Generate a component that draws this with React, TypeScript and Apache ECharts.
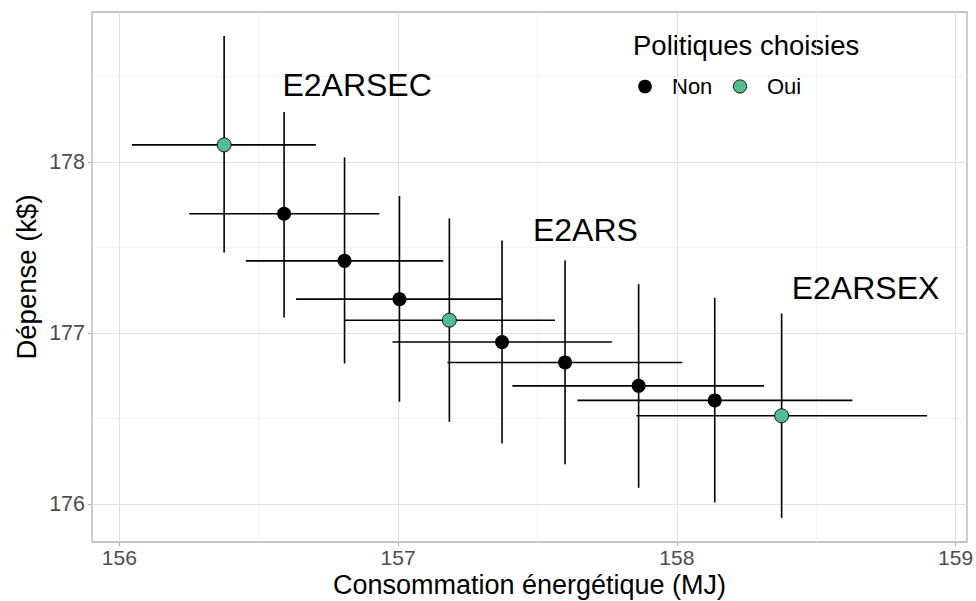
import React, { useEffect, useRef } from "react";
import * as echarts from "echarts";

// ---- data ----
const consumption = [156.376, 156.591, 156.808, 157.005, 157.184, 157.373, 157.599, 157.863, 158.136, 158.376];
const consumptionLow = [156.045, 156.251, 156.454, 156.634, 156.806, 156.98, 157.177, 157.41, 157.643, 157.855];
const consumptionHigh = [156.705, 156.933, 157.162, 157.373, 157.563, 157.767, 158.02, 158.313, 158.63, 158.898];
const spending = [178.099, 177.696, 177.421, 177.197, 177.074, 176.946, 176.827, 176.69, 176.605, 176.515];
const spendingLow = [177.47, 177.09, 176.821, 176.597, 176.48, 176.353, 176.232, 176.094, 176.008, 175.918];
const spendingHigh = [178.735, 178.292, 178.026, 177.8, 177.669, 177.54, 177.425, 177.285, 177.205, 177.113];
const chosen = ["Oui", "Non", "Non", "Non", "Oui", "Non", "Non", "Non", "Non", "Oui"];

const annotationTexts = ["E2ARSEC", "E2ARS", "E2ARSEX"];
const annotationX = [156.853, 157.672, 158.677];
const annotationY = [178.448, 177.6, 177.265];

const legendTitle = "Politiques choisies";
const legendLevels = ["Non", "Oui"];
const xTitle = "Consommation énergétique (MJ)";
const yTitle = "Dépense (k$)";

const xRange = [155.902, 159.041];
const yRange = [175.777, 178.876];

const FONT = "'Liberation Sans', Arial, Helvetica, sans-serif";
const GREEN = "#55bf8b";
const levelColors: Record<string, string> = { Non: "#000000", Oui: GREEN };

export default function App() {
  const ref = useRef<HTMLDivElement>(null);

  useEffect(() => {
    if (!ref.current) return;
    const chart = echarts.init(ref.current, undefined, { renderer: "svg" });

    const errData = consumption.map((x, i) => [
      x,
      spending[i],
      consumptionLow[i],
      consumptionHigh[i],
      spendingLow[i],
      spendingHigh[i],
    ]);

    const pointSeries = legendLevels.map((lvl) => ({
      name: lvl,
      type: "scatter",
      symbol: "circle",
      symbolSize: 14,
      z: 5,
      itemStyle: {
        color: levelColors[lvl],
        borderColor: "#000",
        borderWidth: lvl === "Oui" ? 0.9 : 0,
        opacity: 1,
      },
      emphasis: { disabled: true },
      data: consumption
        .map((x, i) => (chosen[i] === lvl ? [x, spending[i]] : null))
        .filter((d) => d !== null),
    }));

    const axisCommon = {
      type: "value",
      axisLine: { show: false },
      axisTick: { show: true, length: 4, lineStyle: { color: "#b3b3b3", width: 1 } },
      splitLine: { show: true, showMinLine: false, showMaxLine: false, lineStyle: { color: "#e0e0e0", width: 1 } },
      minorTick: { show: false, splitNumber: 2 },
      minorSplitLine: { show: true, lineStyle: { color: "#ededed", width: 0.6 } },
      minInterval: 1,
      maxInterval: 1,
      nameMoveOverlap: false,
    };

    const tickFormatter = (v: number) =>
      Math.abs(v - Math.round(v)) < 1e-6 ? String(Math.round(v)) : "";

    chart.setOption({
      animation: false,
      grid: {
        left: 92,
        right: 9,
        top: 12,
        bottom: 59,
        show: true,
        borderColor: "#b3b3b3",
        borderWidth: 1.3,
        backgroundColor: "transparent",
        containLabel: false,
        outerBoundsMode: "none",
      },
      xAxis: {
        ...axisCommon,
        min: xRange[0],
        max: xRange[1],
        axisLabel: {
          fontFamily: FONT,
          fontSize: 21,
          lineHeight: 18,
          color: "#4d4d4d",
          margin: 6,
          showMinLabel: false,
          showMaxLabel: false,
          formatter: tickFormatter,
        },
        name: xTitle,
        nameLocation: "middle",
        nameGap: 31,
        nameTextStyle: { fontFamily: FONT, fontSize: 27, lineHeight: 24, color: "#000" },
      },
      yAxis: {
        ...axisCommon,
        min: yRange[0],
        max: yRange[1],
        axisLabel: {
          fontFamily: FONT,
          fontSize: 21.5,
          color: "#4d4d4d",
          margin: 7,
          showMinLabel: false,
          showMaxLabel: false,
          formatter: tickFormatter,
        },
        name: yTitle,
        nameLocation: "middle",
        nameGap: 52,
        nameTextStyle: { fontFamily: FONT, fontSize: 27.5, color: "#000" },
      },
      series: [
        {
          type: "custom",
          name: "errorbars",
          z: 3,
          encode: { x: 0, y: 1 },
          data: errData,
          renderItem: (params: any, api: any) => {
            const x = api.value(0);
            const y = api.value(1);
            const pL = api.coord([api.value(2), y]);
            const pH = api.coord([api.value(3), y]);
            const pB = api.coord([x, api.value(4)]);
            const pT = api.coord([x, api.value(5)]);
            const style = { stroke: "#000", lineWidth: 1.6, fill: null };
            return {
              type: "group",
              children: [
                { type: "line", shape: { x1: pL[0], y1: pL[1], x2: pH[0], y2: pH[1] }, style },
                { type: "line", shape: { x1: pB[0], y1: pB[1], x2: pT[0], y2: pT[1] }, style },
              ],
            };
          },
        },
        ...pointSeries,
        {
          type: "scatter",
          name: "annotations",
          symbolSize: 0,
          z: 6,
          silent: true,
          itemStyle: { opacity: 1 },
          data: annotationTexts.map((t, i) => ({ name: t, value: [annotationX[i], annotationY[i]] })),
          label: {
            show: true,
            position: "inside",
            formatter: (p: any) => p.name,
            fontFamily: FONT,
            fontSize: 32,
            color: "#000",
            opacity: 1,
            textBorderWidth: 0,
          },
        },
      ],
      graphic: [
        {
          type: "text",
          left: 633,
          top: 31,
          style: { text: legendTitle, fontFamily: FONT, fontSize: 27.5, fill: "#000" },
        },
        { type: "circle", shape: { cx: 645, cy: 86.5, r: 6.8 }, style: { fill: levelColors.Non, stroke: "#000", lineWidth: 0 } },
        {
          type: "text",
          x: 672,
          y: 86.5,
          style: { text: legendLevels[0], fontFamily: FONT, fontSize: 22, fill: "#000", verticalAlign: "middle" },
        },
        { type: "circle", shape: { cx: 740, cy: 86.5, r: 6.6 }, style: { fill: levelColors.Oui, stroke: "#000", lineWidth: 0.9 } },
        {
          type: "text",
          x: 767,
          y: 86.5,
          style: { text: legendLevels[1], fontFamily: FONT, fontSize: 22, fill: "#000", verticalAlign: "middle" },
        },
      ],
    });

    return () => chart.dispose();
  }, []);

  return (
    <div
      ref={ref}
      style={{ position: "fixed", left: 0, top: 0, width: 976, height: 601, background: "#fff" }}
    />
  );
}
